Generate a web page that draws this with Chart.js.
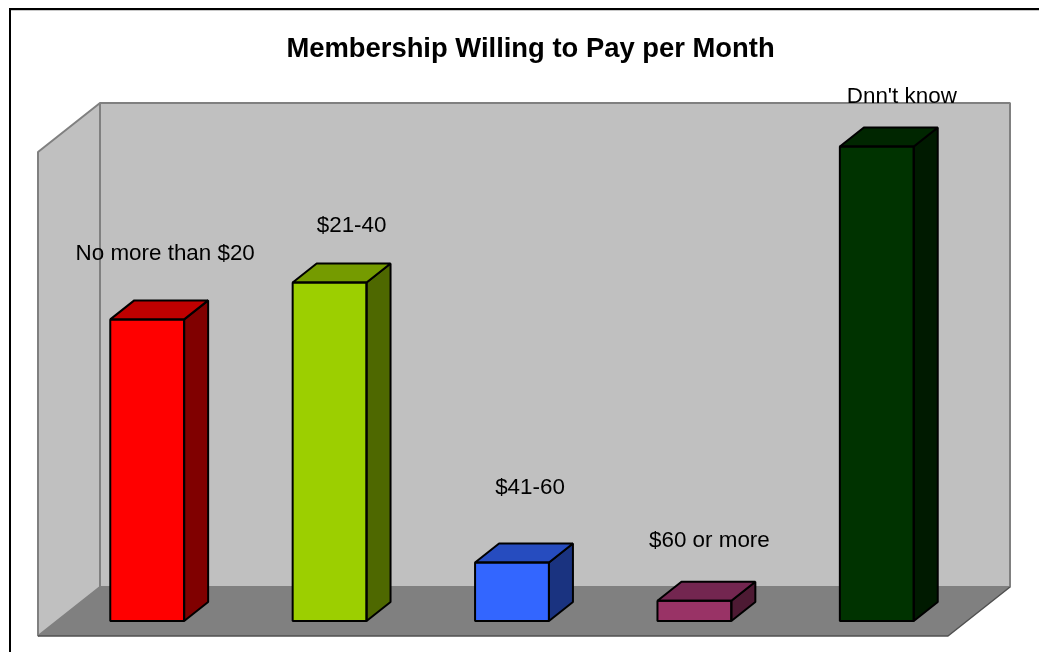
<!DOCTYPE html>
<html>
<head>
<meta charset="utf-8">
<style>
html,body{margin:0;padding:0;background:#fff;overflow:hidden}
#wrap{position:absolute;left:0;top:0;width:1039px;height:652px}
</style>
<script src="https://cdn.jsdelivr.net/npm/chart.js@4/dist/chart.umd.min.js"></script>
</head>
<body>
<div id="wrap"><canvas id="c" width="1039" height="652"></canvas></div>
<script>
const categories = ["No more than $20", "$21-40", "$41-60", "$60 or more", "Dnn't know"];
const pointLabels = ["No more than $20", "$21-40", "$41-60", "$60 or more", "Dnn't know"];
const values = [25.3, 28.4, 4.9, 1.7, 39.8];
const frontColors = ["#FF0000", "#9CCF00", "#3366FF", "#993366", "#003300"];
const sideColors = ["#800000", "#4E6800", "#1A3380", "#4D1A33", "#001A00"];
const topColors = ["#BF0000", "#759B00", "#264CBF", "#732650", "#002600"];
const axisMax = 40.6;

const depth = {dx: 24, dy: 19};
const labelShift = [[18, -59], [22, -50], [18, -69], [15, -54], [25, -44]];

const box3d = {
  id: 'box3d',
  beforeDatasetsDraw(chart) {
    const {ctx, chartArea: a} = chart;
    const wx = 62, wy = 49;
    const L = a.left - 18, R = a.right - 20, B = a.bottom + 15, T = a.top + 15;
    ctx.save();
    ctx.lineJoin = 'bevel';
    ctx.fillStyle = '#C0C0C0';
    ctx.strokeStyle = '#808080';
    ctx.lineWidth = 2;
    ctx.beginPath();
    ctx.rect(L + wx, T - wy, R - L, B - T);
    ctx.fill(); ctx.stroke();
    ctx.beginPath();
    ctx.moveTo(L, T); ctx.lineTo(L + wx, T - wy); ctx.lineTo(L + wx, B - wy); ctx.lineTo(L, B);
    ctx.closePath();
    ctx.fill();
    ctx.strokeStyle = '#808080';
    ctx.stroke();
    ctx.fillStyle = '#808080';
    ctx.beginPath();
    ctx.moveTo(L, B); ctx.lineTo(L + wx, B - wy); ctx.lineTo(R + wx, B - wy); ctx.lineTo(R, B);
    ctx.closePath();
    ctx.fill();
    ctx.strokeStyle = '#505050';
    ctx.lineWidth = 1.5;
    ctx.beginPath();
    ctx.moveTo(L, B); ctx.lineTo(R, B); ctx.lineTo(R + wx, B - wy);
    ctx.stroke();
    ctx.restore();
  },
  afterDatasetsDraw(chart) {
    const {ctx} = chart;
    const meta = chart.getDatasetMeta(0);
    ctx.save();
    ctx.strokeStyle = '#000';
    ctx.lineWidth = 2;
    ctx.lineJoin = 'bevel';
    meta.data.forEach((bar, i) => {
      const p = bar.getProps(['x', 'y', 'base', 'width'], true);
      const l = p.x - p.width / 2, r = p.x + p.width / 2, t = p.y, b = p.base;
      ctx.fillStyle = sideColors[i];
      ctx.beginPath();
      ctx.moveTo(r, t); ctx.lineTo(r + depth.dx, t - depth.dy);
      ctx.lineTo(r + depth.dx, b - depth.dy); ctx.lineTo(r, b);
      ctx.closePath(); ctx.fill(); ctx.stroke();
      ctx.fillStyle = topColors[i];
      ctx.beginPath();
      ctx.moveTo(l, t); ctx.lineTo(l + depth.dx, t - depth.dy);
      ctx.lineTo(r + depth.dx, t - depth.dy); ctx.lineTo(r, t);
      ctx.closePath(); ctx.fill(); ctx.stroke();
      ctx.strokeRect(l, t, r - l, b - t);
    });
    ctx.fillStyle = '#000';
    ctx.font = '22.4px "Liberation Sans", Arial, sans-serif';
    ctx.textAlign = 'center';
    ctx.textBaseline = 'alphabetic';
    meta.data.forEach((bar, i) => {
      const p = bar.getProps(['x', 'y'], true);
      ctx.save();
      if (i === 4) { ctx.beginPath(); ctx.rect(0, 0, 1039, 103); ctx.clip(); }
      ctx.fillText(pointLabels[i], p.x + labelShift[i][0], p.y + labelShift[i][1]);
      ctx.restore();
    });
    ctx.restore();
  },
  afterDraw(chart) {
    const {ctx} = chart;
    ctx.save();
    ctx.fillStyle = '#000';
    ctx.fillRect(9, 8, 1030, 2);
    ctx.fillRect(9, 8, 2, 644);
    ctx.fillStyle = '#C8C8C8';
    ctx.fillRect(11, 10, 1028, 1);
    ctx.restore();
  }
};

new Chart(document.getElementById('c'), {
  type: 'bar',
  data: {
    labels: categories,
    datasets: [{
      data: values,
      backgroundColor: frontColors,
      borderWidth: 0,
      barPercentage: 0.405,
      categoryPercentage: 1
    }]
  },
  options: {
    responsive: false,
    animation: false,
    devicePixelRatio: 1,
    layout: {padding: {left: 56, right: 71, top: 137, bottom: 31}},
    plugins: {
      legend: {display: false},
      tooltip: {enabled: false},
      title: {display: false}
    },
    scales: {
      x: {display: false},
      y: {display: false, min: 0, max: axisMax}
    }
  },
  plugins: [box3d, {
    id: 'heading',
    afterDraw(chart) {
      const {ctx} = chart;
      ctx.save();
      ctx.fillStyle = '#000';
      ctx.font = 'bold 27.4px "Liberation Sans", Arial, sans-serif';
      ctx.textAlign = 'center';
      ctx.textBaseline = 'alphabetic';
      ctx.fillText('Membership Willing to Pay per Month', 530.5, 57);
      ctx.restore();
    }
  }]
});
</script>
</body>
</html>
